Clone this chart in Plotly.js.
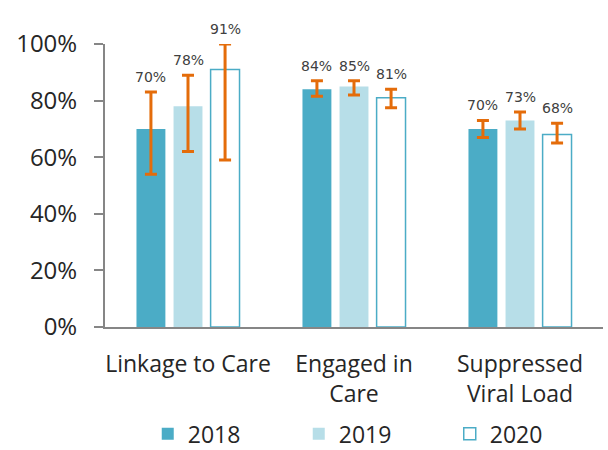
<!DOCTYPE html>
<html><head><meta charset="utf-8">
<script src="https://cdn.plot.ly/plotly-3.0.1.min.js"></script>
<style>html,body{margin:0;padding:0;background:#fff}#chart{width:608px;height:450px}</style>
</head><body><div id="chart"></div>
<script>
var categories = ["Linkage to Care", "Engaged in<br>Care", "Suppressed<br>Viral Load"];
var years = ["2018", "2019", "2020"];
var values2018 = [70, 84, 70];
var values2019 = [78, 85, 73];
var values2020 = [91, 81, 68];
var errHigh2018 = [83, 87, 73];
var errLow2018 = [54, 81.5, 67];
var errHigh2019 = [89, 87, 76];
var errLow2019 = [62, 82, 70];
var errHigh2020 = [100, 84, 72];
var errLow2020 = [59, 77.5, 65];
var yTicks = [0, 20, 40, 60, 80, 100];

var values = [values2018, values2019, values2020];
var highs = [errHigh2018, errHigh2019, errHigh2020];
var lows = [errLow2018, errLow2019, errLow2020];
var fills = ['#4BACC6', '#B7DEE8', '#FFFFFF'];
var lines = ['#4BACC6', '#B7DEE8', '#4BACC6'];
var lineW = [0, 0, 1.5];
var errColor = '#E46C0A';
var bargap = 0.33, bargroupgap = 0.22;
var xIdx = categories.map(function(c, i){ return i; });

var traces = [];
var annotations = [];
for (var j = 0; j < 3; j++) {
  var v = values[j];
  traces.push({
    type: 'bar', name: years[j], x: xIdx, y: v,
    marker: {color: fills[j], line: {color: lines[j], width: lineW[j]}},
    error_y: {type: 'data', symmetric: false,
      array: v.map(function(val, i){ return highs[j][i] - val; }),
      arrayminus: v.map(function(val, i){ return val - lows[j][i]; }),
      color: errColor, thickness: 3, width: 6},
    hoverinfo: 'skip'
  });
  var slot = (1 - bargap) / 3;
  for (var i = 0; i < v.length; i++) {
    annotations.push({
      x: i + (j - 1) * slot, y: highs[j][i], xref: 'x', yref: 'y',
      text: v[i] + '%', showarrow: false, yanchor: 'bottom', yshift: 5,
      font: {family: 'DejaVu Sans', size: 14, color: '#404040'}
    });
  }
}

var layout = {
  width: 608, height: 450,
  margin: {l: 105, r: 5, t: 44, b: 123, autoexpand: false},
  paper_bgcolor: '#fff', plot_bgcolor: '#fff',
  barmode: 'group', bargap: bargap, bargroupgap: bargroupgap,
  showlegend: true,
  legend: {orientation: 'h', xref: 'container', yref: 'container',
    x: 0.243, xanchor: 'left', y: 0.036, yanchor: 'middle',
    font: {family: 'Open Sans', size: 23, color: '#262626'},
    entrywidth: 106, entrywidthmode: 'pixels', traceorder: 'normal'},
  xaxis: {
    tickmode: 'array', tickvals: xIdx, ticktext: categories,
    range: [-0.5, 2.5], showline: true, linecolor: '#868686', linewidth: 2,
    ticks: '', showgrid: false, zeroline: false, ticklabelstandoff: 15,
    tickfont: {family: 'Open Sans', size: 23, color: '#262626'}
  },
  yaxis: {
    range: [0, 100], tickmode: 'array', tickvals: yTicks,
    ticktext: yTicks.map(function(t){ return t + '%'; }),
    showline: true, linecolor: '#868686', linewidth: 2,
    ticks: 'outside', ticklen: 9, tickwidth: 2, tickcolor: '#868686',
    showgrid: false, zeroline: false, ticklabelstandoff: 12,
    tickfont: {family: 'Open Sans', size: 24, color: '#262626'}
  },
  annotations: annotations
};
Plotly.newPlot('chart', traces, layout, {staticPlot: true});
</script></body></html>
